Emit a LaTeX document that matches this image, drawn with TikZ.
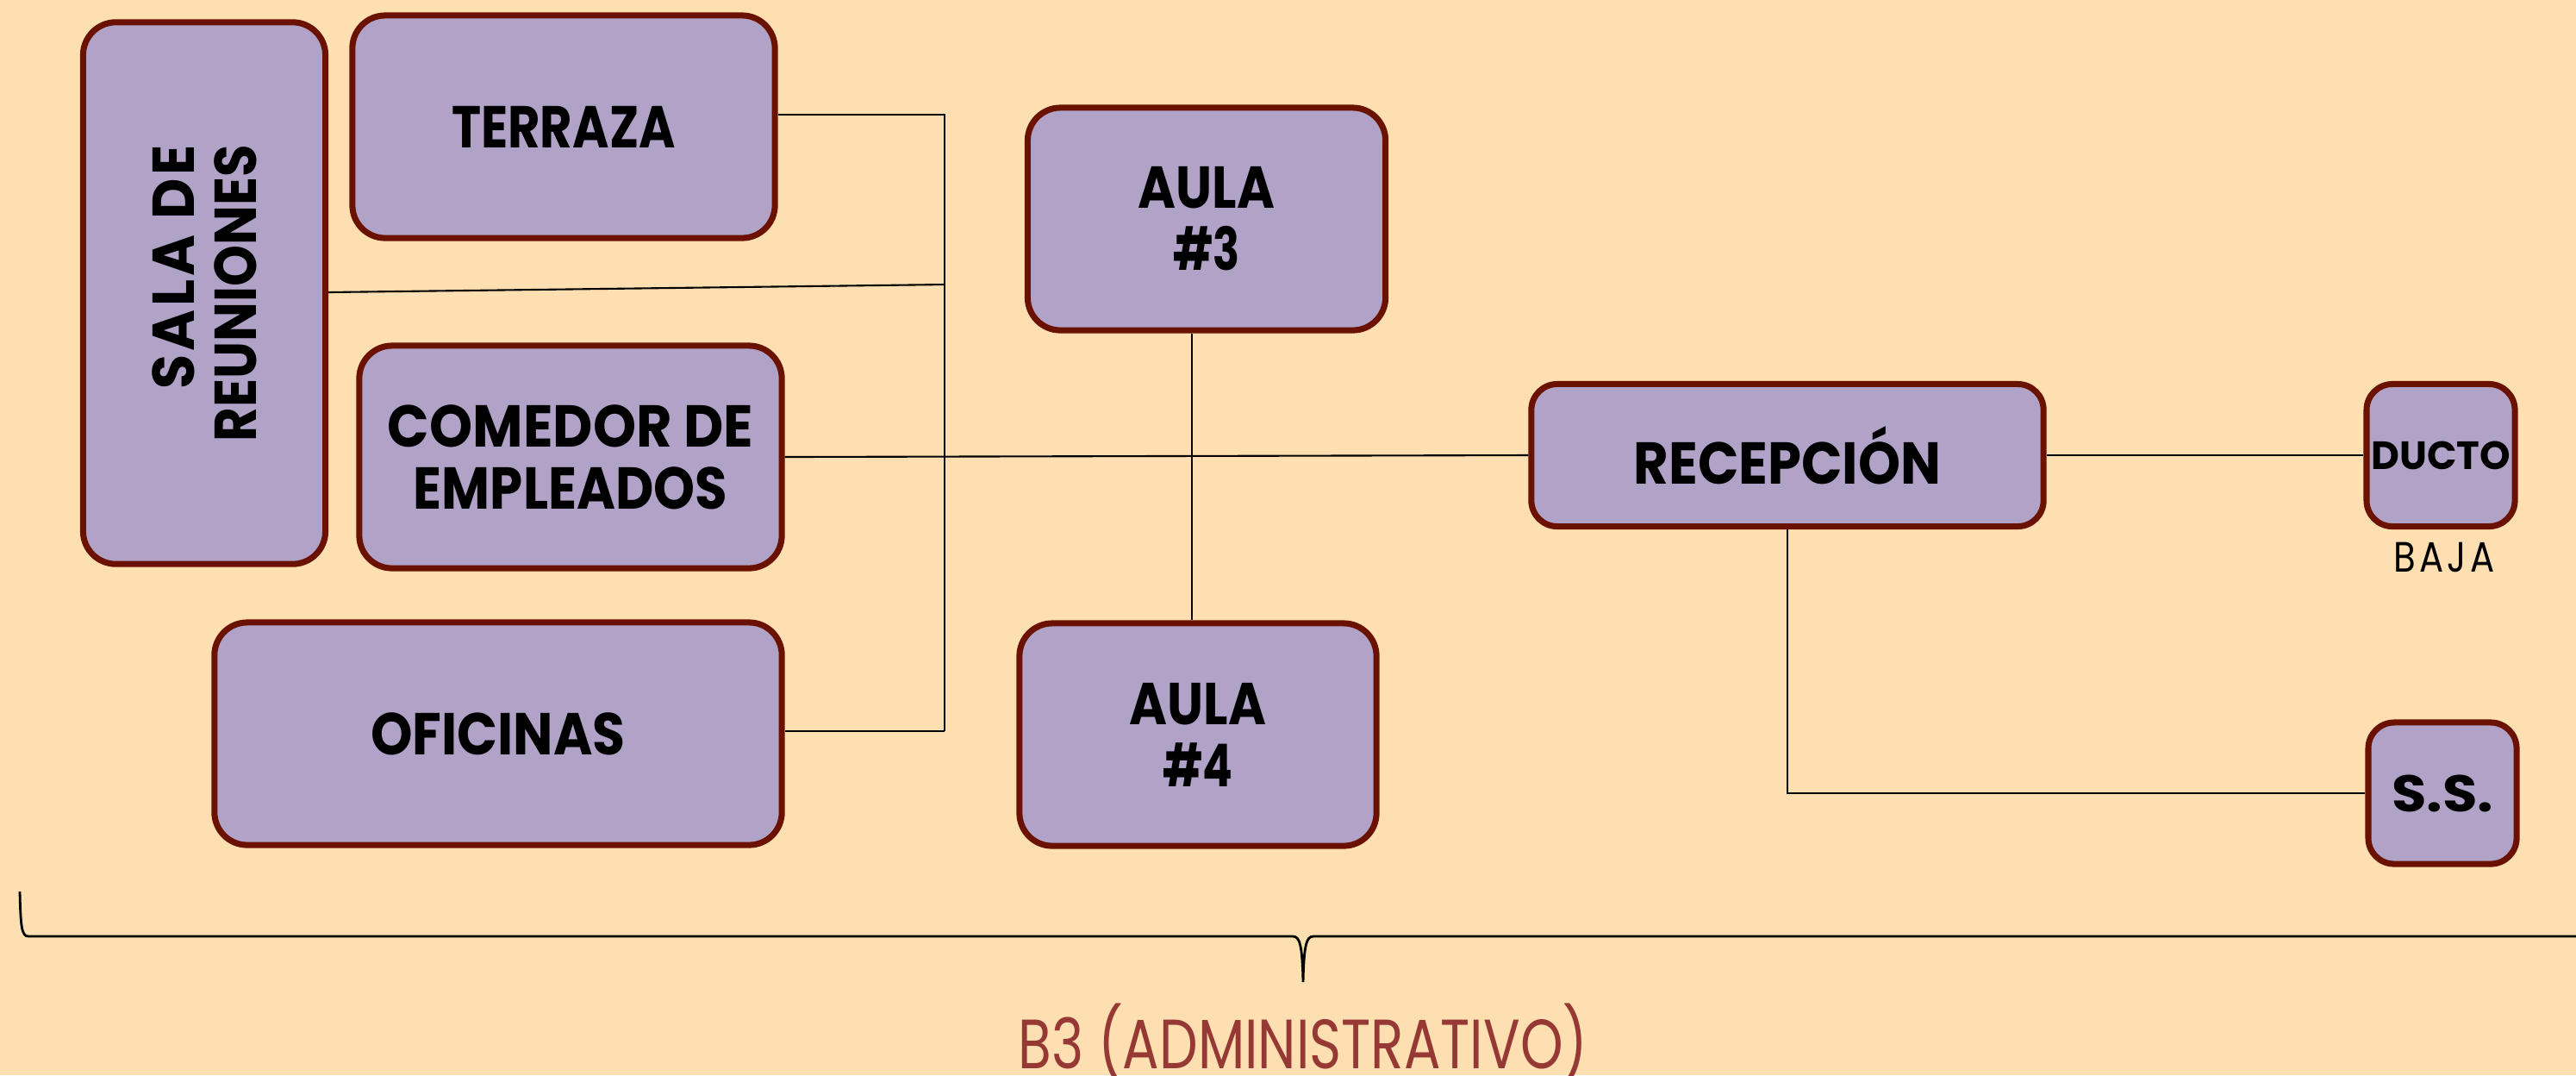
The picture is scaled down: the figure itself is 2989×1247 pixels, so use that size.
\documentclass[tikz,border=0pt]{standalone}
\usepackage{fontspec}
\usepackage{graphicx}
\setmainfont{Poppins}
\definecolor{bg}{RGB}{254,223,177}
\definecolor{boxfill}{RGB}{177,162,200}
\definecolor{boxline}{RGB}{107,17,0}
\definecolor{titlecol}{RGB}{150,56,52}
\newcommand{\sx}[2]{\scalebox{#1}[1]{#2}}
\tikzset{
  room/.style={draw=boxline, line width=2pt, fill=boxfill, rounded corners=0.38cm,
    inner sep=0pt, align=center, font=\fontsize{19.5}{20.5}\selectfont\bfseries, text=black},
  link/.style={draw=black, line width=0.6pt},
}
\begin{document}
\begin{tikzpicture}[x=0.01cm, y=-0.01cm]
\fill[bg] (0,0) rectangle (2989,1247);
\useasboundingbox (0,0) rectangle (2989,1247);

\node[room, rotate=90, align=right, minimum width=6.28cm, minimum height=2.81cm] (sala) at (237,340)
  {\sx{0.95}{\addfontfeature{LetterSpace=6}SALA DE}\\\sx{0.89}{REUNIONES}};
\node[room, minimum width=4.90cm, minimum height=2.58cm] (terraza) at (654,147) {\sx{0.84}{TERRAZA}};
\node[room, minimum width=4.90cm, minimum height=2.58cm] (comedor) at (662,530) {\sx{0.93}{COMEDOR DE}\\\sx{0.89}{EMPLEADOS}};
\node[room, minimum width=6.58cm, minimum height=2.58cm] (oficinas) at (578,851) {\sx{0.9}{OFICINAS}};
\node[room, minimum width=4.15cm, minimum height=2.58cm] (aula3) at (1400,254) {\sx{0.87}{AULA}\\\sx{0.75}{\#3}};
\node[room, minimum width=4.14cm, minimum height=2.58cm] (aula4) at (1390,852) {\sx{0.87}{AULA}\\\sx{0.75}{\#4}};
\node[room, minimum width=5.94cm, minimum height=1.65cm, rounded corners=0.3cm] (recep) at (2074,528) {\sx{0.91}{RECEPCIÓN}};
\node[room, minimum width=1.72cm, minimum height=1.65cm, rounded corners=0.3cm,
  font=\fontsize{13}{15}\selectfont\bfseries] (ducto) at (2832,528) {\sx{0.99}{DUCTO}};
\node[room, minimum width=1.72cm, minimum height=1.64cm, rounded corners=0.3cm,
  font=\fontsize{17}{19}\selectfont\bfseries] (ss) at (2834,920) {\sx{1.1}{S.S.}};
\node[font=\fontsize{14}{16}\selectfont, inner sep=0pt] (baja) at (2836,646)
  {\sx{0.85}{\addfontfeature{LetterSpace=10}BAJA}};
\node[font=\fontsize{23}{26}\selectfont, text=titlecol, inner sep=0pt, anchor=base] (title) at (1512,1239)
  {\sx{0.78}{B3 (ADMINISTRATIVO)}};

\coordinate (j1) at (1096,133);
\coordinate (j2) at (1096,330);
\coordinate (j4) at (1096,848);
\coordinate (a34) at (1383,0);

\draw[link] (terraza.east |- j1) -- (j1) -- (j4);
\draw[link] (sala.south |- 0,339) -- (j2);
\draw[link] (oficinas.east |- j4) -- (j4);
\draw[link] (comedor.east) -- (recep.west);
\draw[link] (aula3.south -| a34) -- (aula4.north -| a34);
\draw[link] (recep.east) -- (ducto.west);
\draw[link] (recep.south) |- (ss.west);

\coordinate (bl) at (23,1034);
\coordinate (bt) at (1512,1139);
\coordinate (br) at (2989,1086);
\draw[line width=0.8pt] (bl) .. controls (24,1075) and (25,1086) .. (33,1086) -- (1500,1086)
  .. controls (1508,1086) and (1511,1095) .. (bt)
  .. controls (1513,1095) and (1516,1086) .. (1524,1086) -- (br);
\end{tikzpicture}
\end{document}
